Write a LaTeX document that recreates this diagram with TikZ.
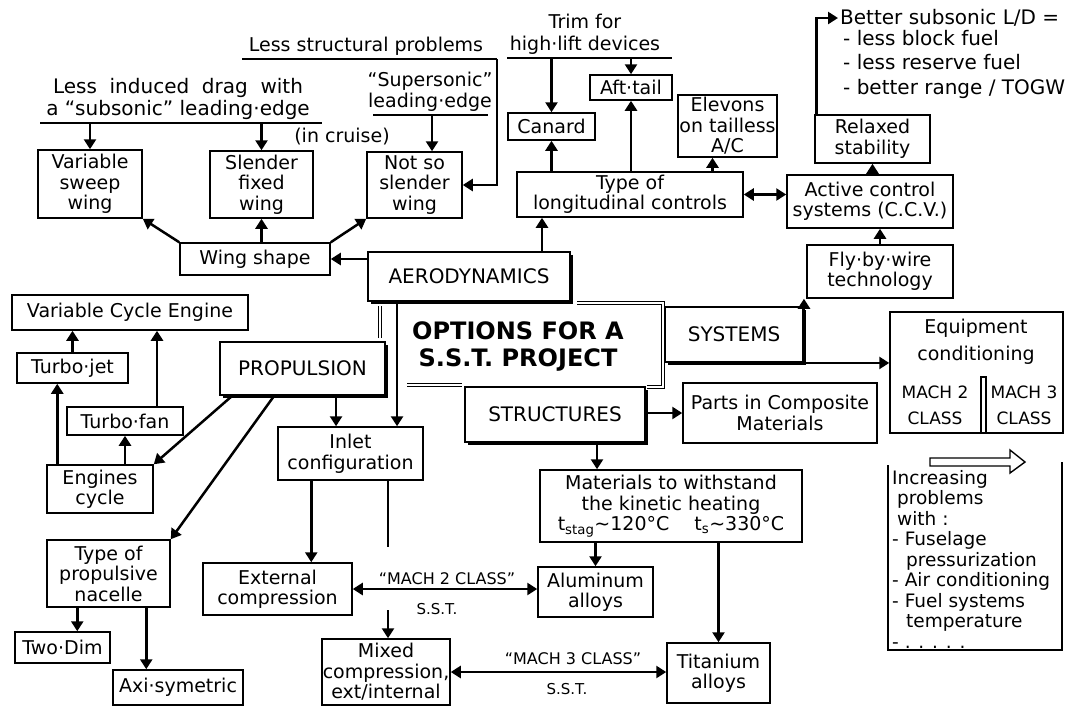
\documentclass[tikz,border=0pt]{standalone}
\usepackage{fontspec}
\setmainfont{DejaVu Sans}
\usetikzlibrary{arrows.meta,shadows}

\tikzset{
  box/.style={draw, fill=white, line width=1.5pt, inner sep=0pt, align=center, font=\fontsize{19}{20.5}\selectfont},
  mainbox/.style={box, line width=1.9pt, drop shadow={shadow xshift=2.5pt, shadow yshift=-2.5pt, opacity=1, fill=black}, font=\fontsize{20}{22}\selectfont},
  lbl/.style={inner sep=0pt, align=center, font=\fontsize{19}{20.5}\selectfont},
  arr/.style={line width=2.5pt, -{Triangle[length=10pt,width=12pt]}},
  darr/.style={line width=2.5pt, {Triangle[length=10pt,width=12pt]}-{Triangle[length=10pt,width=12pt]}},
  rule/.style={line width=1.7pt},
  frame/.style={double, double distance=2pt, line width=0.9pt},
}
% box from its corners: [style]{name}{x1}{y1}{x2}{y2}{text}
\newcommand{\bxnode}[7][box]{\node[#1, minimum width={(#5-#3)*1pt}, minimum height={(#6-#4)*1pt}] (#2) at ({(#3+#5)/2},{(#4+#6)/2}) {#7};}

\begin{document}
\begin{tikzpicture}[x=1pt, y=-1pt]
\useasboundingbox (0,0) rectangle (1067,710);

% title frame
\draw[frame] (380,338) -- (380,306);
\draw[frame] (577,303) -- (663,303) -- (663,387) -- (647,387);
\draw[frame] (407,385) -- (462,385);
\node[lbl, font=\fontsize{24}{27}\selectfont\bfseries] (title) at (518,346) {OPTIONS FOR A\\S.S.T. PROJECT};

% aerodynamics
\bxnode[mainbox]{aero}{368}{252}{570}{301}{AERODYNAMICS}
\bxnode{wingshape}{180}{243}{330}{275}{Wing shape}
\bxnode{vsweep}{38}{150}{142}{218}{Variable\\sweep\\wing}
\bxnode{sfixed}{210}{151}{313}{218}{Slender\\fixed\\wing}
\bxnode{nsslender}{367}{152}{462}{218}{Not so\\slender\\wing}
\node[lbl, font=\fontsize{20}{22}\selectfont] (induced) at (178,99) {Less \ induced \ drag \ with\\a “subsonic” leading·edge};
\node[lbl] (incruise) at (342,137) {(in cruise)};
\node[lbl] (lessstruct) at (366,46) {Less structural problems};
\node[lbl] (supersonic) at (430,92) {“Supersonic”\\leading·edge};
\coordinate (indL) at (40,123);  \coordinate (indR) at (322,123);
\coordinate (lsL) at (242,59);   \coordinate (lsR) at (497,59);
\coordinate (ssL) at (373,115);  \coordinate (ssR) at (488,115);
\coordinate (ssA) at (432,115);
\draw[rule] (indL) -- (indR);
\draw[rule] (lsL) -- (lsR);
\draw[rule] (ssL) -- (ssR);
\draw[arr] (vsweep.north |- indL) -- (vsweep.north);
\draw[arr] (sfixed.north |- indL) -- (sfixed.north);
\draw[arr] (ssA) -- (ssA |- nsslender.north);
\draw[arr] (lsR) |- (nsslender.east);
\draw[arr] (wingshape.north west) -- (vsweep.south east);
\draw[arr] (sfixed.south |- wingshape.north) -- (sfixed.south);
\draw[arr] (wingshape.north east) -- (nsslender.south west);
\draw[arr] (aero.west |- wingshape.east) -- (wingshape.east);

% longitudinal controls
\bxnode{longctrl}{517}{172}{743}{217}{Type of\\longitudinal controls}
\bxnode{canard}{508}{113}{595}{140}{Canard}
\bxnode{afttail}{590}{75}{672}{100}{Aft·tail}
\bxnode{elevons}{678}{95}{777}{157}{Elevons\\on tailless\\A/C}
\node[lbl, font=\fontsize{19}{22}\selectfont] (trim) at (585,34) {Trim for\\high·lift devices};
\coordinate (trL) at (507,58);  \coordinate (trR) at (672,58);
\draw[rule] (trL) -- (trR);
\draw[arr] (canard.north |- trL) -- (canard.north);
\draw[arr] (afttail.north |- trL) -- (afttail.north);
\draw[arr] ([xshift=73pt]aero.north) -- ([xshift=73pt]aero.north |- longctrl.south);
\draw[arr] (canard.south |- longctrl.north) -- (canard.south);
\draw[arr] (afttail.south |- longctrl.north) -- (afttail.south);
\draw[arr] ([xshift=-15pt]elevons.south |- longctrl.north) -- ([xshift=-15pt]elevons.south);

% systems
\bxnode{active}{787}{175}{953}{228}{Active control\\systems (C.C.V.)}
\bxnode{relaxed}{815}{115}{930}{163}{Relaxed\\stability}
\bxnode{flybywire}{807}{245}{953}{298}{Fly·by·wire\\technology}
\bxnode[mainbox]{systems}{665}{307}{803}{362}{SYSTEMS}
\bxnode{equip}{890}{312}{1063}{433}{}
\node[lbl, font=\fontsize{19}{27}\selectfont] (equiptxt) at (976,342) {Equipment\\conditioning};
\node[lbl, font=\fontsize{17}{26}\selectfont] (mach2) at (935,405) {MACH 2\\CLASS};
\node[lbl, font=\fontsize{17}{26}\selectfont] (mach3) at (1024,405) {MACH 3\\CLASS};
\draw[line width=1.5pt] (981,433) -- (981,377) -- (986,377) -- (986,433);
\node[lbl, anchor=west, font=\fontsize{20}{24}\selectfont] (better) at (840,18) {Better subsonic L/D =};
\node[lbl, anchor=north west, align=left, font=\fontsize{20}{24.5}\selectfont] (betterlist) at (843,30)
  {- less block fuel\\- less reserve fuel\\- better range / TOGW};
\draw[darr] (longctrl.east) -- (longctrl.east -| active.west);
\draw[arr] (relaxed.south |- active.north) -- (relaxed.south);
\draw[arr] (flybywire.north) -- (flybywire.north |- active.south);
\draw[arr] ([xshift=2pt]relaxed.north west) |- ([xshift=-2pt]better.west);
\draw[arr] (systems.south east) -- (systems.south east |- flybywire.south);
\draw[arr] (systems.south east) -- (systems.south east -| equip.west);

% structures
\bxnode[mainbox]{structures}{465}{387}{645}{442}{STRUCTURES}
\bxnode{parts}{683}{383}{877}{443}{Parts in Composite\\Materials}
\bxnode{materials}{540}{470}{802}{542}{Materials to withstand\\the kinetic heating\\t\textsubscript{stag}\textasciitilde 120°C \quad t\textsubscript{s}\textasciitilde 330°C}
\bxnode{aluminum}{538}{567}{653}{617}{Aluminum\\alloys}
\bxnode{titanium}{667}{643}{770}{703}{Titanium\\alloys}
\draw[arr] (structures.east |- parts.west) -- (parts.west);
\draw[arr] ([xshift=42pt]structures.south) -- ([xshift=42pt]structures.south |- materials.north);
\draw[arr] (aluminum.north |- materials.south) -- (aluminum.north);
\draw[arr] (titanium.north |- materials.south) -- (titanium.north);

% increasing problems
\draw[line width=1.5pt] (888,465) -- (888,650) -- (1062,650) -- (1062,462);
\draw[line width=1.4pt] (930,458) -- (1010,458) -- (1010,450) -- (1025,462) -- (1010,473) -- (1010,466) -- (930,466) -- cycle;
\node[lbl, anchor=north west, align=left, font=\fontsize{18.5}{20.5}\selectfont] (incr) at (892,470)
  {Increasing\\\hspace{5pt}problems\\\hspace{5pt}with :\\- Fuselage\\\hspace{14pt}pressurization\\- Air conditioning\\- Fuel systems\\\hspace{14pt}temperature\\- . . . . .};

% propulsion
\bxnode[mainbox]{propulsion}{220}{342}{385}{395}{PROPULSION}
\bxnode{vce}{12}{295}{248}{330}{Variable Cycle Engine}
\bxnode{turbojet}{17}{353}{128}{383}{Turbo·jet}
\bxnode{turbofan}{67}{407}{183}{435}{Turbo·fan}
\bxnode{engcycle}{47}{465}{153}{513}{Engines\\cycle}
\bxnode{nacelle}{47}{540}{170}{607}{Type of\\propulsive\\nacelle}
\bxnode{twodim}{15}{632}{110}{663}{Two·Dim}
\bxnode{axisym}{113}{670}{243}{705}{Axi·symetric}
\bxnode{inlet}{278}{427}{423}{480}{Inlet\\configuration}
\bxnode{extcomp}{203}{563}{352}{615}{External\\compression}
\bxnode{mixed}{322}{639}{450}{705}{Mixed\\compression,\\ext/internal}
\draw[arr] (turbojet.north) -- (turbojet.north |- vce.south);
\draw[arr] ([xshift=32pt]turbofan.north) -- ([xshift=32pt]turbofan.north |- vce.south);
\draw[arr] ([xshift=11pt]engcycle.north west) -- ([xshift=11pt]engcycle.north west |- turbojet.south);
\draw[arr] (turbofan.south |- engcycle.north) -- (turbofan.south);
\draw[arr] ([xshift=13pt]propulsion.south west) -- (engcycle.north east);
\draw[arr] ([xshift=55pt]propulsion.south west) -- (nacelle.north east);
\draw[arr] ([xshift=31pt]nacelle.south west) -- ([xshift=31pt]nacelle.south west |- twodim.north);
\draw[arr] ([xshift=100pt]nacelle.south west) -- ([xshift=100pt]nacelle.south west |- axisym.north);
\draw[arr] ([xshift=117pt]propulsion.south west) -- ([xshift=117pt]propulsion.south west |- inlet.north);
\draw[arr] ([xshift=30pt]aero.south west) -- ([xshift=30pt]aero.south west |- inlet.north);
\draw[arr] ([xshift=34pt]inlet.south west) -- ([xshift=34pt]inlet.south west |- extcomp.north);
\coordinate (gapA) at (388,547);
\coordinate (gapB) at (388,610);
\draw[line width=2.5pt] (gapA |- inlet.south) -- (gapA);
\draw[arr] (gapB) -- (gapB |- mixed.north);

% mach classes
\node[lbl, font=\fontsize{16}{18}\selectfont] (mach2lbl) at (447,579) {“MACH 2 CLASS”};
\node[lbl, font=\fontsize{15}{18}\selectfont] (sst2) at (437,609) {S.S.T.};
\node[lbl, font=\fontsize{16}{18}\selectfont] (mach3lbl) at (573,659) {“MACH 3 CLASS”};
\node[lbl, font=\fontsize{15}{18}\selectfont] (sst3) at (567,689) {S.S.T.};
\draw[darr] (extcomp.east) -- (extcomp.east -| aluminum.west);
\draw[darr] (mixed.east) -- (mixed.east -| titanium.west);
\end{tikzpicture}
\end{document}
